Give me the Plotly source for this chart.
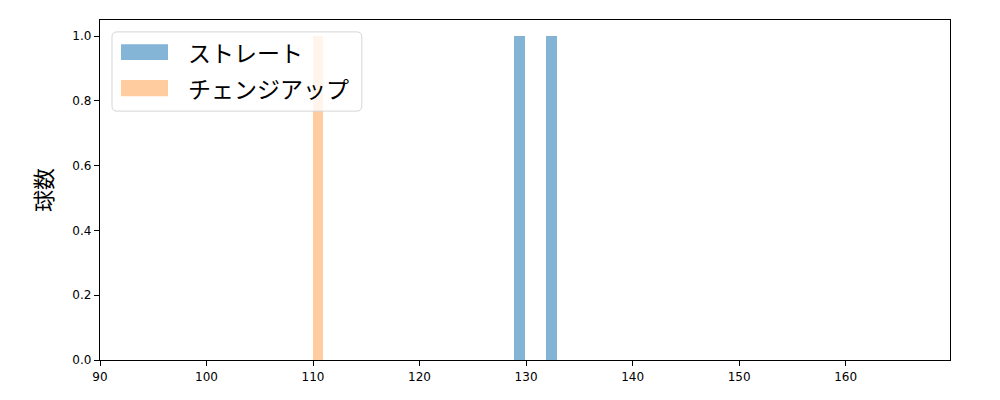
import plotly.graph_objects as go

# data (histogram bins)
straight_left = [128.9, 131.9]
straight_width = [1.0, 1.0]
straight_count = [1, 1]

changeup_left = [110.0]
changeup_width = [0.93]
changeup_count = [1]

series_names = ["ストレート", "チェンジアップ"]
series_colors = ["#1f77b4", "#ff7f0e"]

x_ticks = [90, 100, 110, 120, 130, 140, 150, 160]
y_ticks = [0.0, 0.2, 0.4, 0.6, 0.8, 1.0]

def centers(lefts, widths):
    return [l + w / 2 for l, w in zip(lefts, widths)]

fig = go.Figure()
fig.add_trace(go.Bar(
    x=centers(straight_left, straight_width), y=straight_count, width=straight_width,
    name=series_names[0], marker=dict(color=series_colors[0], line=dict(width=0)), opacity=0.55,
    showlegend=False,
))
fig.add_trace(go.Bar(
    x=centers(changeup_left, changeup_width), y=changeup_count, width=changeup_width,
    name=series_names[1], marker=dict(color=series_colors[1], line=dict(width=0)), opacity=0.4,
    showlegend=False,
))

axis_common = dict(
    showline=True, linecolor="black", linewidth=1.3, mirror=True,
    ticks="outside", ticklen=5, tickwidth=1.2, tickcolor="black",
    showgrid=False, zeroline=False,
    tickfont=dict(family="DejaVu Sans", size=12, color="black"),
)

# page has an 8px body margin; compensate so the plot area sits at x 100-950, y 20-360
fig.update_layout(
    width=1000, height=400,
    margin=dict(l=92, r=58, t=12, b=48),
    plot_bgcolor="white", paper_bgcolor="white",
    barmode="overlay", bargap=0,
    showlegend=False,
    xaxis=dict(range=[90, 169.8], tickvals=x_ticks, ticktext=[str(v) for v in x_ticks], **axis_common),
    yaxis=dict(range=[0, 1.05], tickvals=y_ticks, ticktext=[f"{v:.1f}" for v in y_ticks],
               title=dict(text="球数", font=dict(family="Noto Sans CJK JP", size=22, color="black"), standoff=13),
               **axis_common),
)

# matplotlib-style legend box (paper coordinates of the plot area)
x0, x1, y0, y1, r = 0.0141, 0.308, 0.732, 0.965, 0.006
ry = r * 850 / 340
path = (f"M {x0+r},{y0} L {x1-r},{y0} Q {x1},{y0} {x1},{y0+ry} L {x1},{y1-ry} Q {x1},{y1} {x1-r},{y1} "
        f"L {x0+r},{y1} Q {x0},{y1} {x0},{y1-ry} L {x0},{y0+ry} Q {x0},{y0} {x0+r},{y0} Z")
fig.add_shape(type="path", path=path, xref="paper", yref="paper", layer="above",
              fillcolor="rgba(255,255,255,0.8)", line=dict(color="#d5d5d5", width=1))

patch_y = [(0.882, 0.929), (0.776, 0.8235)]
text_y = [0.906, 0.800]
opac = [0.55, 0.4]
for name, color, (py0, py1), ty, op in zip(series_names, series_colors, patch_y, text_y, opac):
    fig.add_shape(type="rect", xref="paper", yref="paper", layer="above",
                  x0=0.0247, x1=0.080, y0=py0, y1=py1,
                  fillcolor=color, opacity=op, line=dict(width=0))
    fig.add_annotation(text=name, xref="paper", yref="paper", x=0.101, y=ty,
                       xanchor="left", yanchor="middle", showarrow=False,
                       font=dict(family="Noto Sans CJK JP", size=23, color="black"))

fig.write_html("out.html")
